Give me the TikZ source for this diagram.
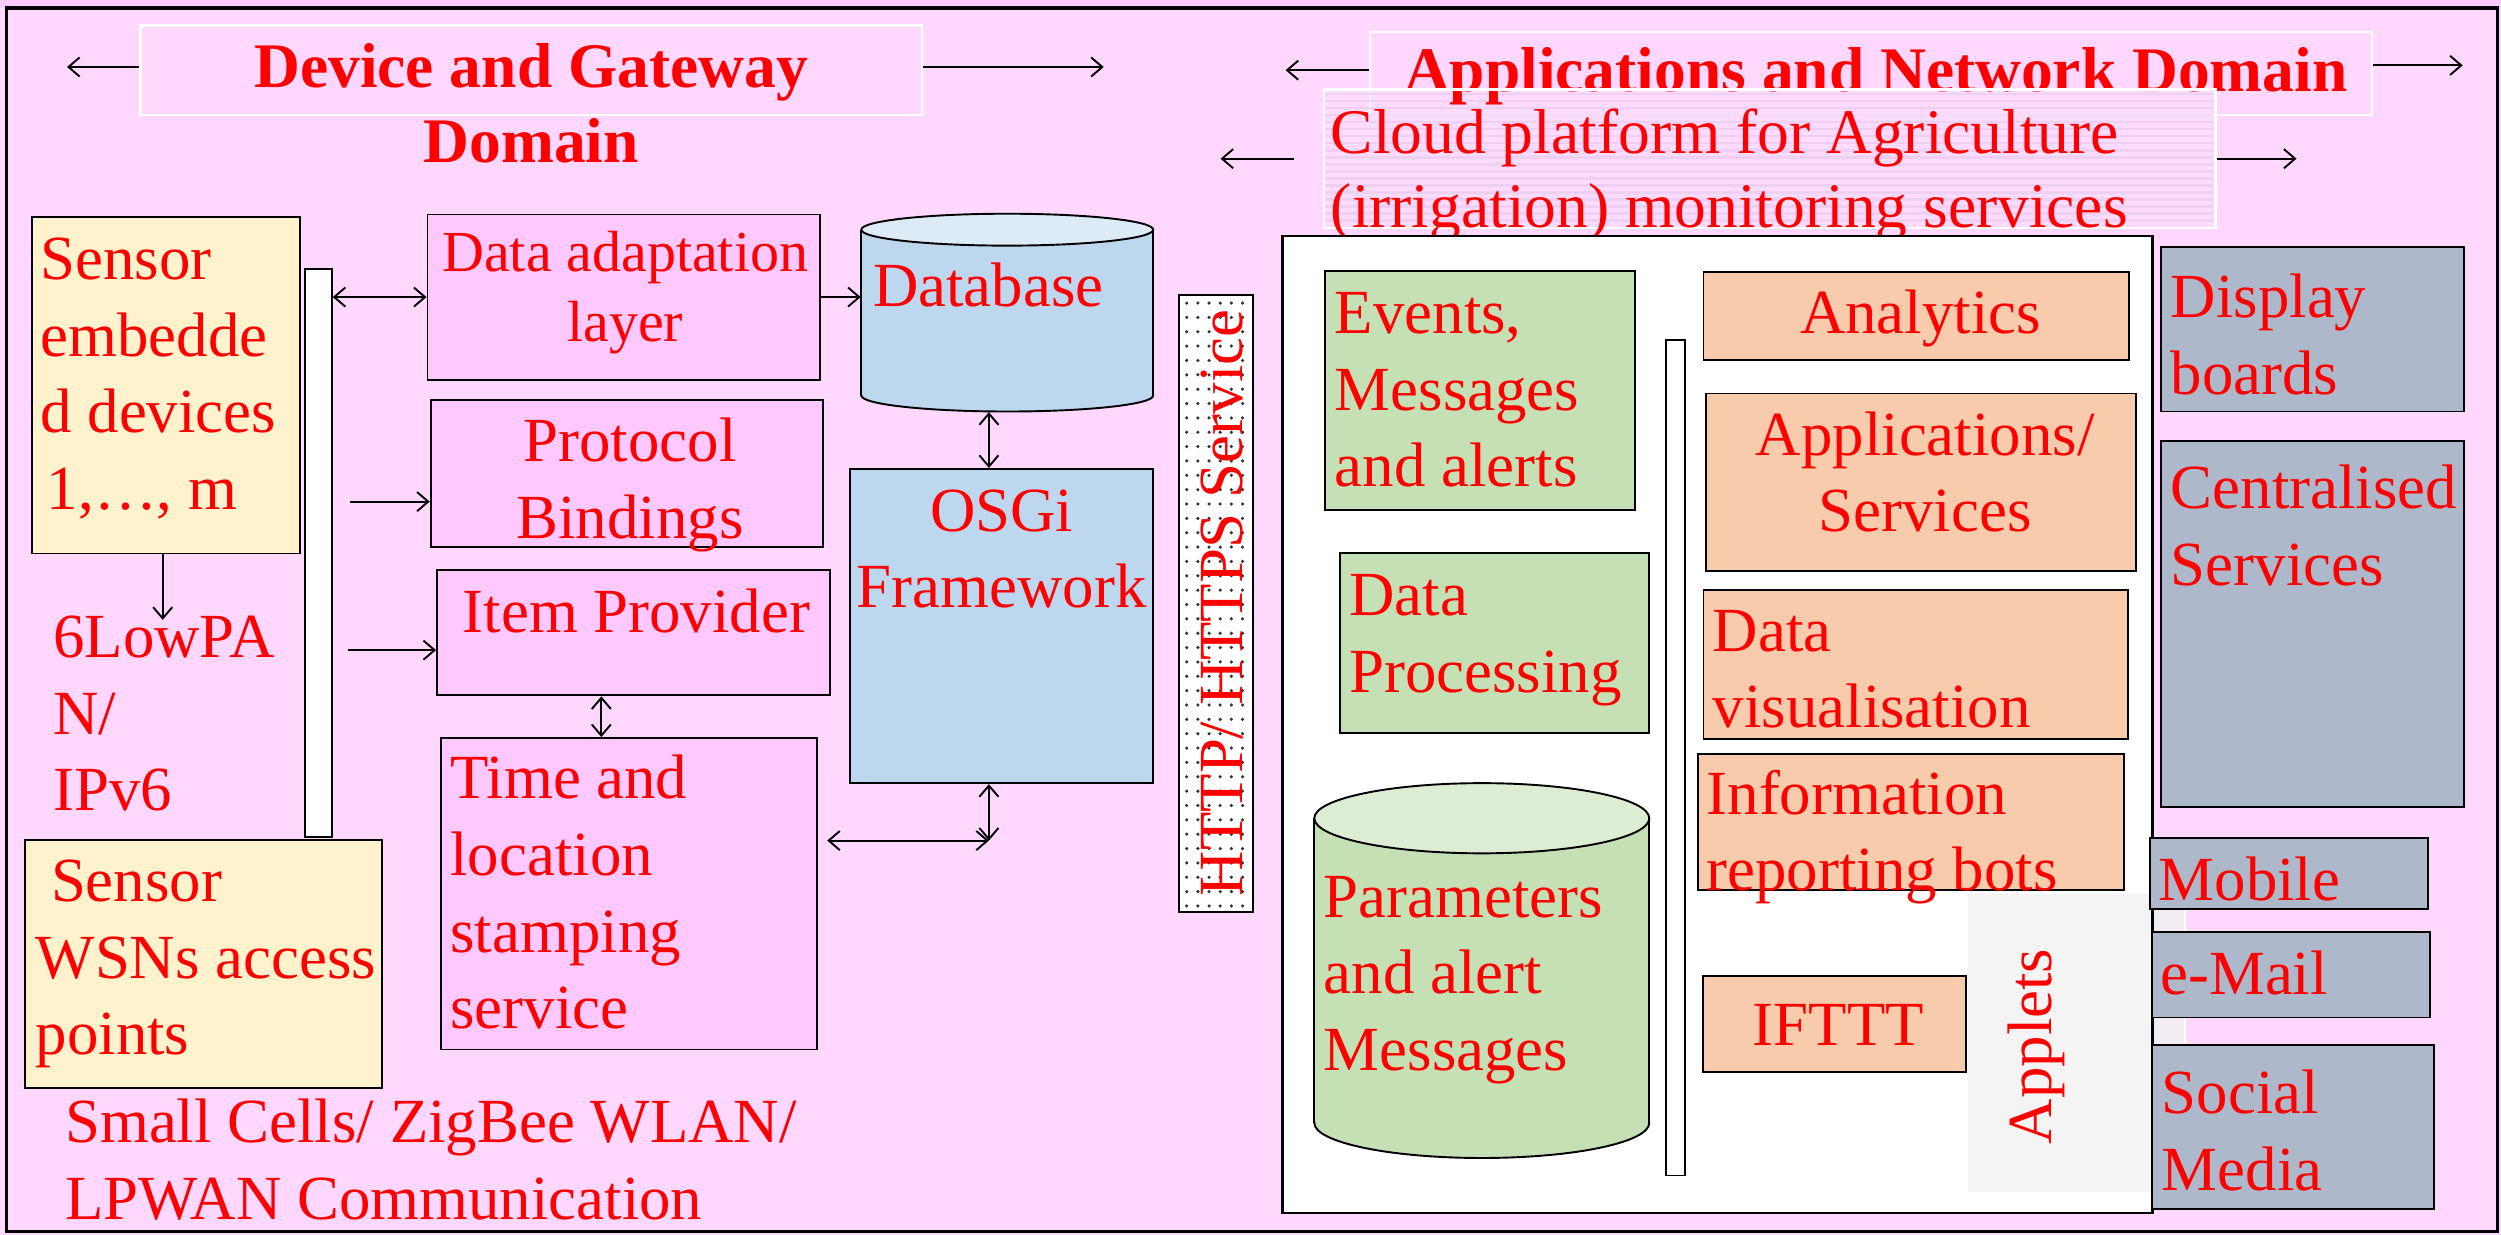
\documentclass[tikz,border=0pt]{standalone}
\usepackage{fontspec}
\setmainfont{Liberation Serif}
\usetikzlibrary{fit,arrows.meta}
\definecolor{bgpink}{HTML}{FFD7FF}
\definecolor{strip}{HTML}{FFCCFF}
\definecolor{boxpink}{HTML}{FFC9FF}
\definecolor{ylw}{HTML}{FFF2CC}
\definecolor{blu}{HTML}{BDD7EE}
\definecolor{blutop}{HTML}{DDEBF7}
\definecolor{grn}{HTML}{C5E0B4}
\definecolor{grntop}{HTML}{DDEDD3}
\definecolor{pch}{HTML}{F8CBAD}
\definecolor{gry}{HTML}{ADB9CA}
\definecolor{apl}{HTML}{F2F2F2}
\definecolor{strp}{HTML}{E6CAEA}
\newcommand\myst{\rule{0pt}{14pt}}
\begin{document}
\begin{tikzpicture}[x=0.5pt,y=-0.5pt,
 box/.style={draw=black, line width=0.6pt, inner sep=0pt},
 wbox/.style={draw=white, line width=0.8pt, inner sep=0pt},
 txt/.style={text=red, inner sep=0pt, align=left, anchor=north west, font=\fontsize{19.7}{24}\selectfont},
 ctxt/.style={txt, align=center, anchor=north},
 ttl/.style={text=red, inner sep=0pt, font=\bfseries\fontsize{19.9}{24}\selectfont, anchor=base},
 arr/.style={line width=0.6pt, -{Straight Barb[length=3.5pt,width=6pt]}},
 darr/.style={line width=0.6pt, {Straight Barb[length=3.5pt,width=6pt]}-{Straight Barb[length=3.5pt,width=6pt]}},
 rtxt/.style={text=red, inner sep=0pt, rotate=90, anchor=base, font=\fontsize{19.7}{24}\selectfont},
]
\useasboundingbox (0,0) rectangle (1568,774);
% background
\fill[bgpink] (0,0) rectangle (1568,774);
\fill[strip] (0,0) rectangle (1568,5);
\draw[line width=1pt] (4,5) rectangle (1566,772);

% ---- titles ----
\node[wbox, fit={(88,16) (578,72)}] (t1box) {};
\node[ttl] (t1a) at (333,55) {Device and Gateway};
\node[ttl] (t1b) at (333,102) {Domain};
\coordinate (t1l) at (42,42);
\coordinate (t1r) at (692,42);
\draw[arr] (t1box.west |- t1l) -- (t1l);
\draw[arr] (t1box.east |- t1r) -- (t1r);

\node[wbox, fit={(859,20) (1487,72)}] (t2box) {};
\coordinate (t2l) at (806,44);
\coordinate (t2r) at (1544,41);
\draw[arr] (t2box.west |- t2l) -- (t2l);
\draw[arr] (t2box.east |- t2r) -- (t2r);

% cloud platform box
\fill[bgpink!70!white, opacity=0.35] (830,56) rectangle (1389,143);
\foreach \yy in {59,63.4,...,142} \draw[strp, line width=0.8pt, opacity=0.6] (830,\yy) -- (1389,\yy);
\node[ttl] (t2) at (1176,57.5) {Applications and Network Domain};
\node[wbox, fit={(830,56) (1389,143)}] (cloud) {};
\node[txt, font=\fontsize{19.9}{23}\selectfont] (cloudt) at (834,68) {\myst Cloud platform for Agriculture\\(irrigation) monitoring services};
\draw[arr] ([xshift=-9pt]cloud.west) -- ++(-46,0);
\draw[arr] (cloud.east) -- ++(50,0);

% ---- device and gateway domain ----
\node[box, fill=ylw, fit={(20,136) (188,347)}] (sen) {};
\node[txt] (sent) at (25,147) {\myst Sensor\\embedde\\d devices\\\hspace{2pt}1,…, m};
\node[box, fill=white, fit={(191,168.7) (208,525)}] (bar1) {};
\node[txt] (lp) at (33,384) {\myst 6LowPA\\N/\\IPv6};
\node[box, fill=ylw, fit={(15.4,526.7) (239.7,682)}] (wsn) {};
\node[txt] (wsnt) at (22,537) {\myst\hspace{4.8pt}Sensor\\WSNs access\\points};
\node[txt] (comm) at (40.5,688) {\myst Small Cells/ ZigBee WLAN/\\LPWAN Communication};

\node[box, fill=boxpink, fit={(268,134.5) (514,238)}] (dal) {};
\node[ctxt, font=\fontsize{18.2}{22}\selectfont] (dalt) at (392,141.6) {\myst Data adaptation\\layer};
\node[box, fill=boxpink, fit={(270,251) (516,343)}] (pb) {};
\node[ctxt] (pbt) at (395,261) {\myst Protocol\\Bindings};
\node[box, fill=boxpink, fit={(274,357.5) (520.5,436)}] (ip) {};
\node[ctxt] (ipt) at (399,368) {\myst Item Provider};
\node[box, fill=boxpink, fit={(276.5,462.7) (512,658)}] (tl) {};
\node[txt] (tlt) at (282,472.5) {\myst Time and\\location\\stamping\\service};

% database cylinder
\fill[blu] (540,144) rectangle (723,248);
\fill[blu] (631.5,248) ellipse [x radius=91.5, y radius=10];
\begin{scope}
\clip (530,248) rectangle (735,262);
\draw[line width=0.6pt] (631.5,248) ellipse [x radius=91.5, y radius=10];
\end{scope}
\draw[line width=0.6pt] (540,144) -- (540,248) (723,144) -- (723,248);
\filldraw[fill=blutop, line width=0.6pt] (631.5,144) ellipse [x radius=91.5, y radius=10];
\node[inner sep=0pt, fit={(540,134) (723,258)}] (db) {};
\node[txt] (dbt) at (547,164) {\myst Database};

\node[box, fill=blu, fit={(533,294) (723,491)}] (os) {};
\node[ctxt] (ost) at (628,304.7) {\myst OSGi\\Framework};

% HTTP service (dotted box)
\fill[white] (739,185) rectangle (785.5,572);
\foreach \yy in {190,199,...,568} {
  \foreach \xx in {744,751,...,782} \fill[black!80] (\xx,\yy) circle [radius=1.1];
}
\node[box, fit={(739,185) (785.5,572)}] (http) {};
\node[rtxt] (httpt) at (779,378) {HTTP/ HTTPS Service};

% arrows left
\draw[darr] (bar1.east |- dal.west) -- (dal.west);
\draw[arr] (dal.east) -- (db.west |- dal.east);
\coordinate (pbs) at (219.5,314.5);
\draw[arr] (pbs) -- (pb.west |- pbs);
\coordinate (ips) at (218,407.6);
\draw[arr] (ips) -- (ip.west |- ips);
\draw[darr] (ip.south -| 377,0) -- (tl.north -| 377,0);
\draw[arr] (sen.south -| 102,0) -- ++(0,41);
\draw[darr] (db.south -| 620,0) -- (os.north -| 620,0);
\coordinate (jn) at (620,527);
\draw[darr] (os.south -| jn) -- (jn);
\draw[darr] ([xshift=3pt]tl.east |- jn) -- (jn);

% ---- applications and network domain ----
\node[fill=white, inner sep=0pt, fit={(804.5,148.5) (1349,760)}] (main) {};

\node[box, fill=grn, fit={(830.5,170) (1024.8,319.6)}] (ev) {};
\node[txt] (evt) at (836.5,180.8) {\myst Events,\\Messages\\and alerts};
\node[box, fill=grn, fit={(840,346.8) (1034,459.4)}] (dp) {};
\node[txt] (dpt) at (845.6,357.6) {\myst Data\\Processing};

% parameters cylinder
\fill[grn] (824,513) rectangle (1034,704);
\fill[grn] (929,704) ellipse [x radius=105, y radius=22];
\begin{scope}
\clip (815,704) rectangle (1045,732);
\draw[line width=0.6pt] (929,704) ellipse [x radius=105, y radius=22];
\end{scope}
\draw[line width=0.6pt] (824,513) -- (824,704) (1034,513) -- (1034,704);
\filldraw[fill=grntop, line width=0.6pt] (929,513) ellipse [x radius=105, y radius=22];
\node[inner sep=0pt, fit={(824,491) (1034,726)}] (par) {};
\node[txt] (part) at (829.6,546.7) {\myst Parameters\\and alert\\Messages};

\node[box, fill=white, fit={(1044.5,213) (1056.5,737)}] (bar2) {};

\node[box, fill=pch, fit={(1068,170.5) (1335,225.7)}] (an) {};
\node[ctxt] (ant) at (1204,180.8) {\myst Analytics};
\node[box, fill=pch, fit={(1069.7,246.7) (1339,358)}] (as) {};
\node[ctxt] (ast) at (1207,257) {\myst Applications/\\Services};
\node[box, fill=pch, fit={(1068,370) (1334,463.5)}] (dv) {};
\node[txt] (dvt) at (1073.5,380) {\myst Data\\visualisation};
\node[box, fill=pch, fit={(1064.5,473) (1331.5,558)}] (irb) {};
\node[box, fill=pch, fit={(1067.6,612) (1232.4,672)}] (ift) {};
\node[ctxt] (iftt) at (1152.5,627) {\myst IFTTT};

% applets
\fill[apl, opacity=0.8] (1233.5,560) rectangle (1370,748);
\draw[white, line width=0.5pt] (1233.5,560) rectangle (1370,748);
\node[inner sep=0pt, fit={(1233.5,560) (1370,748)}] (apl) {};
\node[rtxt] (aplt) at (1286,656) {Applets};
\node[txt] (irbt) at (1069.6,482) {\myst Information\\reporting bots};

\draw[line width=0.8pt] (main.north west) rectangle (main.south east);

\node[box, fill=gry, fit={(1355,155) (1545,258)}] (disp) {};
\node[txt] (dispt) at (1360.6,170.8) {\myst Display\\boards};
\node[box, fill=gry, fit={(1355,276.5) (1544.5,506)}] (cen) {};
\node[txt] (cent) at (1360.6,290.5) {\myst Centralised\\Services};
\node[box, fill=gry, fit={(1347.7,525.4) (1522,570)}] (mob) {};
\node[txt] (mobt) at (1353,536) {\myst Mobile};
\node[box, fill=gry, fit={(1349,584.3) (1523.6,637.9)}] (eml) {};
\node[txt] (emlt) at (1354,595) {\myst e-Mail};
\node[box, fill=gry, fit={(1349,655) (1526,758)}] (sm) {};
\node[txt] (smt) at (1355,670) {\myst Social\\Media};
\end{tikzpicture}
\end{document}
